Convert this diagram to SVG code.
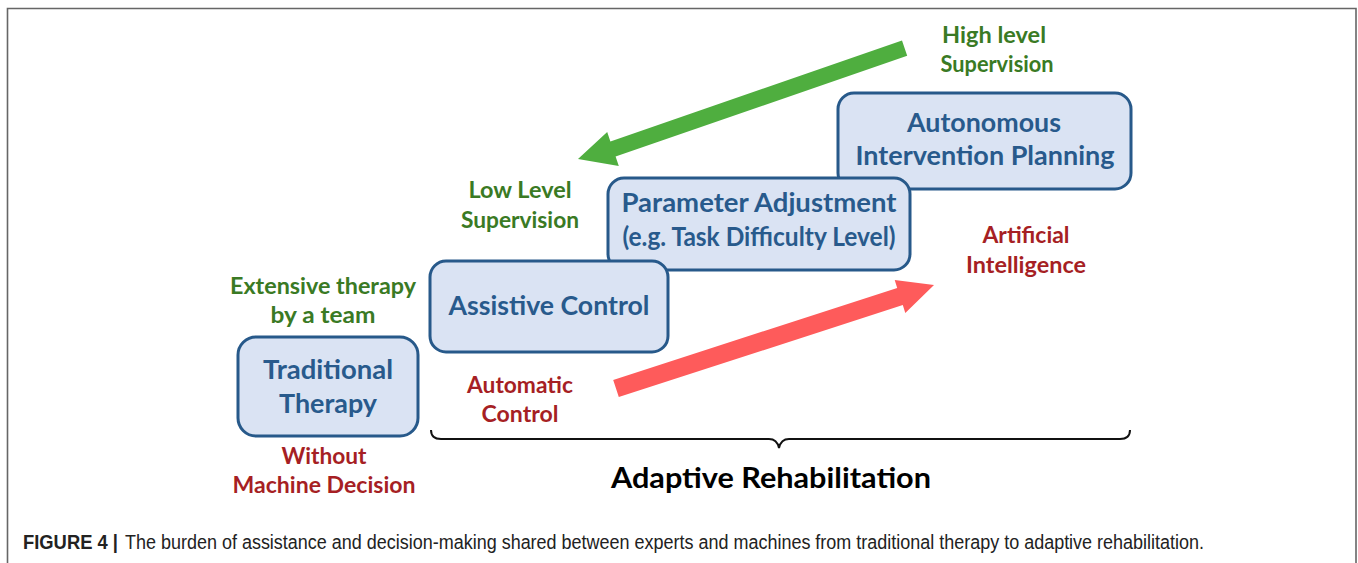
<svg xmlns="http://www.w3.org/2000/svg" width="1358" height="563" viewBox="0 0 1358 563">
<style>
.box{fill:#dae3f3;stroke:#27598a;stroke-width:3}
.bt{font-family:Lato,"Open Sans","Liberation Sans",sans-serif;font-weight:bold;font-size:26px;fill:#285a8c;text-anchor:middle}
.g{font-family:Lato,"Open Sans","Liberation Sans",sans-serif;font-weight:bold;font-size:22px;fill:#3a7a24;text-anchor:middle}
.r{font-family:Lato,"Open Sans","Liberation Sans",sans-serif;font-weight:bold;font-size:22px;fill:#a61f24;text-anchor:middle}
.big{font-family:Lato,"Open Sans","Liberation Sans",sans-serif;font-weight:bold;font-size:29px;fill:#000;text-anchor:middle}
.cap{font-family:"Liberation Sans",Arial,sans-serif;font-size:19.5px;fill:#222}
</style>
<rect width="1358" height="563" fill="#fff"/>
<path d="M7.5,563 L7.5,8.5 L1356,8.5 L1356,563" fill="none" stroke="#666" stroke-width="1.6"/>

<g id="connectors">
  <polygon id="green-arrow" fill="#4fae3f" points="902,40.5 610.4,141.4 607.2,132 578,159 618.8,166 615.6,156.6 907.2,55.7"/>
  <polygon id="red-arrow" fill="#fe5b5b" points="613.2,379.9 897.2,287.9 894.7,280.1 934,285 905.3,312.9 902.8,305.1 618.8,397.1"/>
  <path id="brace" d="M431,430 Q431,439 441,439 L769,439 Q777,439 779,448 Q781,439 789,439 L1120,439 Q1130,439 1130,430" fill="none" stroke="#111" stroke-width="2"/>
</g>

<g id="node-autonomous">
  <rect class="box" x="838" y="93" width="293" height="96" rx="16"/>
  <text class="bt" x="984" y="132" textLength="154" lengthAdjust="spacingAndGlyphs">Autonomous</text>
  <text class="bt" x="985" y="165" textLength="259" lengthAdjust="spacingAndGlyphs">Intervention Planning</text>
</g>
<g id="node-parameter">
  <rect class="box" x="608" y="178" width="302" height="92" rx="16"/>
  <text class="bt" x="759" y="212" textLength="275" lengthAdjust="spacingAndGlyphs">Parameter Adjustment</text>
  <text class="bt" x="759" y="246" font-size="23" textLength="273" lengthAdjust="spacingAndGlyphs">(e.g. Task Difficulty Level)</text>
</g>
<g id="node-assistive">
  <rect class="box" x="430" y="261" width="238" height="91" rx="16"/>
  <text class="bt" x="549" y="315" textLength="201" lengthAdjust="spacingAndGlyphs">Assistive Control</text>
</g>
<g id="node-traditional">
  <rect class="box" x="238" y="337" width="180" height="99" rx="18"/>
  <text class="bt" x="328" y="379" textLength="130" lengthAdjust="spacingAndGlyphs">Traditional</text>
  <text class="bt" x="328" y="413" textLength="98" lengthAdjust="spacingAndGlyphs">Therapy</text>
</g>

<g id="label-high">
  <text class="g" x="994" y="43" textLength="104" lengthAdjust="spacingAndGlyphs">High level</text>
  <text class="g" x="997" y="72" textLength="113" lengthAdjust="spacingAndGlyphs">Supervision</text>
</g>
<g id="label-low">
  <text class="g" x="520" y="198" textLength="103" lengthAdjust="spacingAndGlyphs">Low Level</text>
  <text class="g" x="520" y="228" textLength="118" lengthAdjust="spacingAndGlyphs">Supervision</text>
</g>
<g id="label-extensive">
  <text class="g" x="323" y="294" textLength="186" lengthAdjust="spacingAndGlyphs">Extensive therapy</text>
  <text class="g" x="323" y="323" textLength="105" lengthAdjust="spacingAndGlyphs">by a team</text>
</g>
<g id="label-ai">
  <text class="r" x="1026" y="243" textLength="87" lengthAdjust="spacingAndGlyphs">Artificial</text>
  <text class="r" x="1026" y="273" textLength="120" lengthAdjust="spacingAndGlyphs">Intelligence</text>
</g>
<g id="label-automatic">
  <text class="r" x="520" y="393" textLength="106" lengthAdjust="spacingAndGlyphs">Automatic</text>
  <text class="r" x="520" y="422" textLength="77" lengthAdjust="spacingAndGlyphs">Control</text>
</g>
<g id="label-without">
  <text class="r" x="324" y="464" textLength="85" lengthAdjust="spacingAndGlyphs">Without</text>
  <text class="r" x="324" y="493" textLength="183" lengthAdjust="spacingAndGlyphs">Machine Decision</text>
</g>
<g id="label-adaptive">
  <text class="big" x="771" y="488" textLength="320" lengthAdjust="spacingAndGlyphs">Adaptive Rehabilitation</text>
</g>

<g id="caption">
  <text class="cap" x="23" y="549" font-weight="bold" textLength="95" lengthAdjust="spacingAndGlyphs">FIGURE 4 |</text>
  <text class="cap" x="125" y="549" textLength="1079" lengthAdjust="spacingAndGlyphs">The burden of assistance and decision-making shared between experts and machines from traditional therapy to adaptive rehabilitation.</text>
</g>
</svg>
